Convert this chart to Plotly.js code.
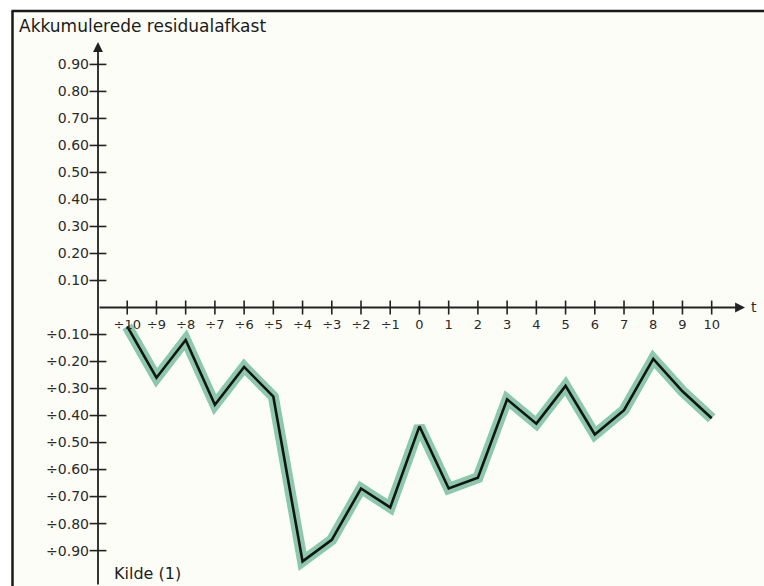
<!DOCTYPE html>
<html>
<head>
<meta charset="utf-8">
<script src="https://cdn.plot.ly/plotly-3.0.1.min.js"></script>
<style>
html,body{margin:0;padding:0;background:#ffffff;}
#chart{width:764px;height:586px;}
</style>
</head>
<body>
<div id="chart"></div>
<script>
// Data
const periods = [-10,-9,-8,-7,-6,-5,-4,-3,-2,-1,0,1,2,3,4,5,6,7,8,9,10];
const residualReturn = [-0.07,-0.26,-0.12,-0.36,-0.22,-0.33,-0.94,-0.86,-0.67,-0.74,-0.44,-0.67,-0.63,-0.34,-0.43,-0.29,-0.47,-0.38,-0.19,-0.31,-0.41];
const xTickText = ['÷10','÷9','÷8','÷7','÷6','÷5','÷4','÷3','÷2','÷1','0','1','2','3','4','5','6','7','8','9','10'];
const yTickVals = [0.9,0.8,0.7,0.6,0.5,0.4,0.3,0.2,0.1,-0.1,-0.2,-0.3,-0.4,-0.5,-0.6,-0.7,-0.8,-0.9];
const yTickText = ['0.90','0.80','0.70','0.60','0.50','0.40','0.30','0.20','0.10','÷0.10','÷0.20','÷0.30','÷0.40','÷0.50','÷0.60','÷0.70','÷0.80','÷0.90'];
const titleText = 'Akkumulerede residualafkast';
const sourceText = 'Kilde (1)';
const axisLabelT = 't';

const X_MIN = -11, X_MAX = 11.14, Y_MIN = -1.031, Y_MAX = 0.983;
const ink = '#222222';
const font = 'DejaVu Sans, Arial, sans-serif';

const traces = [
  { // green halo
    x: periods, y: residualReturn, type: 'scatter', mode: 'lines',
    line: {color: '#8cc8ab', width: 11, shape: 'linear'},
    hoverinfo: 'skip', showlegend: false
  },
  { // black line
    x: periods, y: residualReturn, type: 'scatter', mode: 'lines',
    line: {color: '#141414', width: 2.6},
    showlegend: false
  },
  { // x tick crosses on the axis
    x: periods, y: periods.map(() => 0), type: 'scatter', mode: 'markers',
    marker: {symbol: 'line-ns', size: 10, line: {color: ink, width: 1.6}},
    cliponaxis: false, hoverinfo: 'skip', showlegend: false
  },
  { // y tick crosses on the axis
    x: yTickVals.map(() => X_MIN), y: yTickVals, type: 'scatter', mode: 'markers',
    marker: {symbol: 'line-ew', size: 12, line: {color: ink, width: 1.6}},
    cliponaxis: false, hoverinfo: 'skip', showlegend: false
  }
];

const W = 764, H = 586, L = 98, R = 19, T = 42, B = 0;
const pw = W - L - R, ph = H - T - B;
const px2paperX = p => (p - L) / pw;
const px2paperY = p => (H - B - p) / ph;
const zeroPaperY = (0 - Y_MIN) / (Y_MAX - Y_MIN);

const layout = {
  width: W, height: H,
  margin: {l: L, r: R, t: T, b: B, pad: 0},
  paper_bgcolor: '#ffffff',
  plot_bgcolor: 'rgba(0,0,0,0)',
  font: {family: font, color: ink},
  showlegend: false,
  title: {
    text: titleText,
    font: {family: font, size: 17, color: '#1a1a1a'},
    xref: 'container', yref: 'container',
    x: 19 / W, xanchor: 'left',
    y: 1 - 26 / H, yanchor: 'middle'
  },
  xaxis: {
    range: [X_MIN, X_MAX],
    tickvals: periods, ticktext: xTickText,
    ticks: '', showline: false, showgrid: false, zeroline: false,
    anchor: 'free', position: zeroPaperY,
    ticklabelstandoff: 7,
    tickfont: {family: font, size: 13, color: '#2a2a2a'},
    fixedrange: true
  },
  yaxis: {
    range: [Y_MIN, Y_MAX],
    tickvals: yTickVals, ticktext: yTickText,
    ticks: '', showline: false, showgrid: false, zeroline: false,
    ticklabelstandoff: 8,
    tickfont: {family: font, size: 14, color: '#2a2a2a'},
    fixedrange: true
  },
  shapes: [
    { // cream page
      type: 'rect', xref: 'paper', yref: 'paper', layer: 'below',
      x0: px2paperX(12.5), x1: px2paperX(770), y0: px2paperY(590), y1: px2paperY(11),
      fillcolor: '#fdfdf7', line: {width: 0}
    },
    { // left frame
      type: 'line', xref: 'paper', yref: 'paper',
      x0: px2paperX(12.5), x1: px2paperX(12.5), y0: px2paperY(590), y1: px2paperY(11),
      line: {color: '#1a1a1a', width: 2.5}
    },
    { // top frame
      type: 'line', xref: 'paper', yref: 'paper',
      x0: px2paperX(11.5), x1: px2paperX(770), y0: px2paperY(11), y1: px2paperY(11),
      line: {color: '#1a1a1a', width: 2.5}
    }
  ],
  annotations: [
    { // y axis with arrow
      x: X_MIN, y: Y_MAX, ax: X_MIN, ay: Y_MIN, xref: 'x', yref: 'y', axref: 'x', ayref: 'y',
      text: '', showarrow: true, arrowhead: 2, arrowsize: 1.1, arrowwidth: 1.8, arrowcolor: ink
    },
    { // x axis with arrow
      x: X_MAX, y: 0, ax: X_MIN, ay: 0, xref: 'x', yref: 'y', axref: 'x', ayref: 'y',
      text: '', showarrow: true, arrowhead: 2, arrowsize: 1.1, arrowwidth: 1.8, arrowcolor: ink
    },
    {
      x: X_MAX, y: 0, xref: 'x', yref: 'y', xanchor: 'left', yanchor: 'middle', xshift: 4, yshift: 1,
      text: axisLabelT, showarrow: false, font: {family: font, size: 14, color: '#2a2a2a'}
    },
    {
      x: px2paperX(112), y: px2paperY(585), xref: 'paper', yref: 'paper',
      xanchor: 'left', yanchor: 'bottom',
      text: sourceText, showarrow: false, font: {family: font, size: 16, color: '#1e1e1e'}
    }
  ]
};

Plotly.newPlot('chart', traces, layout, {displayModeBar: false, staticPlot: true});
</script>
</body>
</html>
